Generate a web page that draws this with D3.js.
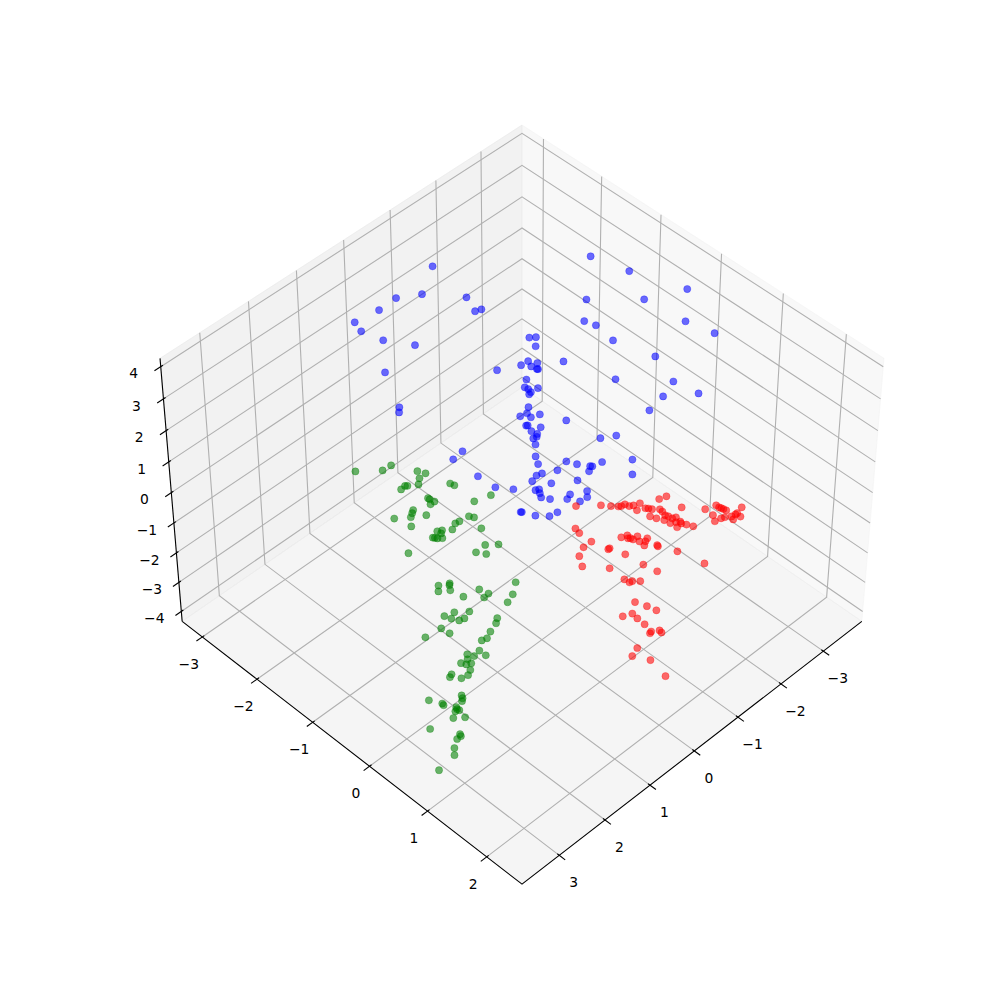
<!DOCTYPE html>
<html><head><meta charset="utf-8"><script src="https://cdn.jsdelivr.net/npm/d3@7"></script>
<style>html,body{margin:0;background:#fff}svg{display:block}text{font-family:"DejaVu Sans";font-size:13.89px;fill:#000}</style></head><body><div id="c"></div>
<script>
const xTicks=[-3,-2,-1,0,1,2,3], yTicks=[-3,-2,-1,0,1,2], zTicks=[-4,-3,-2,-1,0,1,2,3,4];
const xLim=[-3.923,3.804], yLim=[-3.374,2.587], zLim=[-4.345,4.257];
const blueZ=3, greenZ=-3, redZ=-3;
const blueX=[-1.20,-0.28,-0.63,0.10,0.56,0.63,-1.07,-0.94,-1.04,0.53,0.26,1.01,1.39,1.47,-0.24,-1.11,-1.19,
-1.04,-0.72,-0.58,-0.67,-0.79,-0.70,-0.69,-0.41,-0.27,-0.28,-0.26,-0.21,-0.40,0.00,0.23,0.11,0.13,
-0.01,0.31,0.29,0.18,0.34,0.32,0.43,0.37,0.50,1.38,1.60,0.68,0.77,0.43,0.36,0.06,0.25,
0.23,0.34,-0.30,-0.07,1.59,0.66,0.87,0.96,1.09,0.92,0.60,1.57,1.41,1.19,1.14,1.19,1.24,
1.17,0.89,0.99,0.66,0.75,0.89,1.67,1.66,1.57,1.43,1.29,-3.13,-3.31,-3.65,-2.36,-3.00,-1.98,
-2.04,-3.09,-3.21,-1.98,-2.18,-1.10,-1.38,-1.97,-2.05,-1.62,-1.25,-0.20,-0.50,-0.29];
const blueY=[-2.81,-2.71,-2.54,-2.70,-2.75,-2.58,-2.12,-1.87,-1.84,-2.28,-1.95,-1.86,-1.31,-1.25,-0.95,-1.08,-1.03,
-0.92,-0.80,-0.81,-0.71,-0.70,-0.62,-0.63,-0.59,-0.51,-0.46,-0.40,-0.39,-0.39,-0.24,-0.20,-0.18,-0.10,
-0.06,-0.04,-0.03,0.10,0.07,0.15,0.17,0.18,0.26,-0.26,-0.24,0.40,0.51,0.71,0.83,1.01,0.96,
0.98,1.01,1.23,1.40,0.16,0.74,0.65,0.63,0.66,0.84,1.02,0.43,0.60,0.79,0.81,0.86,0.92,
1.01,1.12,1.15,1.22,1.29,1.28,0.92,0.93,1.08,1.20,1.22,-1.58,-1.06,-0.34,-1.07,-0.58,-0.82,
-0.67,0.04,0.43,-0.34,0.21,-0.50,0.15,0.66,1.01,0.75,0.80,0.23,0.82,0.72];
const greenX=[0.09,-0.24,-0.42,-0.63,-0.69,-0.54,-0.43,-0.15,-0.25,-0.28,-0.81,-0.83,-0.80,-1.09,-0.32,-0.32,-0.34,
-0.25,0.04,0.10,0.18,0.39,-0.03,-0.50,-0.54,-0.31,-0.23,-0.10,-0.45,0.32,0.10,0.03,0.09,0.25,
0.23,0.21,0.15,-0.39,-0.23,-0.01,-0.10,0.77,0.93,0.77,0.80,0.87,1.02,0.82,0.53,0.01,0.23,
0.49,0.60,0.41,0.98,1.16,1.33,1.29,1.23,1.14,0.77,0.86,1.55,1.05,1.53,1.86,1.19,1.28,
1.46,1.65,1.46,1.60,1.72,1.85,1.81,1.74,1.85,2.12,2.18,1.95,2.07,2.75,2.32,2.35,2.40,
2.65,2.66,2.55,2.57,2.56,2.62,2.74,2.60,3.15,2.90,2.92,3.00,3.16,3.26,3.64];
const greenY=[-3.25,-3.02,-3.01,-2.70,-2.60,-2.59,-2.52,-2.61,-2.62,-2.60,-2.25,-2.19,-1.81,-1.74,-2.26,-2.23,-2.16,
-2.16,-2.24,-2.21,-2.17,-2.30,-2.06,-1.67,-1.61,-1.69,-1.70,-1.65,-1.41,-2.05,-1.76,-1.73,-1.70,-1.72,
-1.70,-1.67,-1.63,-1.06,-1.17,-1.16,-1.05,-1.74,-1.08,-1.01,-0.99,-0.92,-1.01,-0.73,-0.68,-0.45,-0.33,
-0.55,-0.54,-0.28,-0.50,-0.62,-0.66,-0.57,-0.48,-0.46,-0.18,-0.13,-0.54,-0.08,-0.41,-0.57,-0.03,-0.05,
0.05,-0.01,0.16,0.07,0.05,0.04,0.10,0.13,0.20,0.09,0.11,0.24,0.22,0.20,0.42,0.46,0.49,
0.35,0.38,0.51,0.54,0.57,0.55,0.61,0.70,0.54,0.85,0.88,0.88,0.96,1.04,1.08];
const redX=[-1.89,-2.19,-2.29,-2.37,-2.41,-2.48,-2.50,-2.56,-2.67,-2.52,-2.65,-2.68,-2.71,-2.96,-3.09,-3.08,-2.80,
-2.79,-2.57,-2.61,-2.76,-2.78,-2.67,-2.79,-2.85,-2.69,-2.77,-2.83,-2.70,-2.81,-2.85,-2.90,-3.32,-3.51,
-3.51,-3.52,-3.53,-3.54,-3.31,-3.23,-3.35,-3.41,-3.50,-3.47,-3.58,-3.62,-3.77,-3.60,-1.52,-1.49,-1.49,
-1.31,-1.12,-0.99,-1.59,-1.56,-1.90,-2.00,-1.96,-1.99,-2.00,-2.10,-2.04,-2.03,-2.11,-2.18,-2.18,-2.17,
-1.67,-2.31,-2.42,-1.71,-1.27,-1.76,-1.26,-1.27,-1.32,-1.41,-1.02,-1.09,-1.13,-0.81,-0.66,-0.79,-0.78,
-0.74,-0.70,-0.85,-0.84,-0.33,-0.15,-0.29,-0.21];
const redY=[-0.85,-0.64,-0.54,-0.47,-0.45,-0.44,-0.38,-0.35,-0.32,-0.26,-0.21,-0.18,-0.14,-0.20,-0.17,0.10,-0.07,
-0.02,-0.07,0.01,0.05,0.09,0.10,0.15,0.17,0.19,0.23,0.26,0.30,0.29,0.35,0.43,0.33,0.38,
0.43,0.46,0.49,0.53,0.47,0.56,0.58,0.60,0.65,0.70,0.66,0.66,0.63,0.73,-0.58,-0.49,-0.28,
-0.28,-0.21,-0.06,-0.04,-0.04,-0.07,-0.04,0.00,0.02,0.06,0.06,0.14,0.23,0.19,0.17,0.34,0.36,
0.17,0.59,0.97,0.45,0.20,0.65,0.46,0.54,0.55,0.62,0.82,0.97,1.10,0.93,0.88,1.03,1.16,
1.30,1.31,1.36,1.40,1.37,1.42,1.62,1.93];
const S=4166,cx=522,cy=494,r2=Math.SQRT1_2,hx=.595,hz=.446;
const qx=d3.scaleLinear().domain(xLim).range([-hx,hx]),qy=d3.scaleLinear().domain(yLim).range([-hx,hx]),qz=d3.scaleLinear().domain(zLim).range([-hz,hz]);
const sx=d3.scaleLinear().domain([-.12,.12]).range([cx-.12*S,cx+.12*S]),sy=d3.scaleLinear().domain([-.12,.12]).range([cy+.12*S,cy-.12*S]);
function prq(a,b,c){const d=10-(.5*(a+b)+r2*c);return [sx(r2*(b-a)/d),sy((-.5*(a+b)+r2*c)/d)];}
const pr=(x,y,z)=>prq(qx(x),qy(y),qz(z));
const [x0,x1]=xLim,[y0,y1]=yLim,[z0,z1]=zLim;
const svg=d3.select("#c").append("svg").attr("width",1000).attr("height",1000);
const line=d3.line();
const path=(pts,col,w)=>svg.append("path").attr("d",line(pts)).attr("fill","none").attr("stroke",col).attr("stroke-width",w);
const pane=(pts,g)=>svg.append("path").attr("d",line(pts)+"Z").attr("fill",`rgba(${g},${g},${g},.5)`).attr("stroke",`rgba(${g},${g},${g},.5)`);
pane([pr(x1,y0,z0),pr(x0,y0,z0),pr(x0,y0,z1),pr(x1,y0,z1)],229.5);
pane([pr(x0,y0,z0),pr(x0,y1,z0),pr(x0,y1,z1),pr(x0,y0,z1)],242.25);
pane([pr(x0,y0,z0),pr(x1,y0,z0),pr(x1,y1,z0),pr(x0,y1,z0)],235.9);
const G="#b0b0b0",gw=1.1;
yTicks.forEach(y=>path([pr(x1,y,z0),pr(x0,y,z0),pr(x0,y,z1)],G,gw));
xTicks.forEach(x=>path([pr(x,y1,z0),pr(x,y0,z0),pr(x,y0,z1)],G,gw));
zTicks.forEach(z=>path([pr(x1,y0,z),pr(x0,y0,z),pr(x0,y1,z)],G,gw));
path([pr(x1,y0,z0),pr(x1,y1,z0),pr(x0,y1,z0)],"#000",1.1);
path([pr(x1,y0,z0),pr(x1,y0,z1)],"#000",1.1);
const OUT=.0195,IN=.0066;
const label=(p,t,dx,dy)=>svg.append("text").attr("x",p[0]+dx).attr("y",p[1]+dy).attr("dy","0.36em").attr("text-anchor","middle").text(String(t).replace("-","\u2212"));
yTicks.forEach(y=>{const a=qy(y);path([prq(hx+OUT,a,-hz),prq(hx-IN,a,-hz)],"#000",1.1);label(pr(x1,y,z0),y,-13.5,27);});
xTicks.forEach(x=>{const a=qx(x);path([prq(a,hx+OUT,-hz),prq(a,hx-IN,-hz)],"#000",1.1);label(pr(x,y1,z0),x,14.5,26.8);});
zTicks.forEach(z=>{const c=qz(z);path([prq(hx+OUT,-hx,c),prq(hx-IN,-hx,c)],"#000",1.1);label(pr(x1,y0,z),z,-27,6.8);});
[[greenX,greenY,greenZ,"rgb(0,128,0)"],[blueX,blueY,blueZ,"rgb(0,0,255)"],[redX,redY,redZ,"rgb(255,0,0)"]].forEach(([xs,ys,z,col])=>{
 svg.append("g").selectAll("circle").data(d3.zip(xs,ys)).join("circle")
  .attr("cx",d=>pr(d[0],d[1],z)[0]).attr("cy",d=>pr(d[0],d[1],z)[1])
  .attr("r",3.6).attr("fill",col).attr("fill-opacity",.58).attr("stroke",col).attr("stroke-opacity",.35).attr("stroke-width",.8);
});
</script></body></html>
